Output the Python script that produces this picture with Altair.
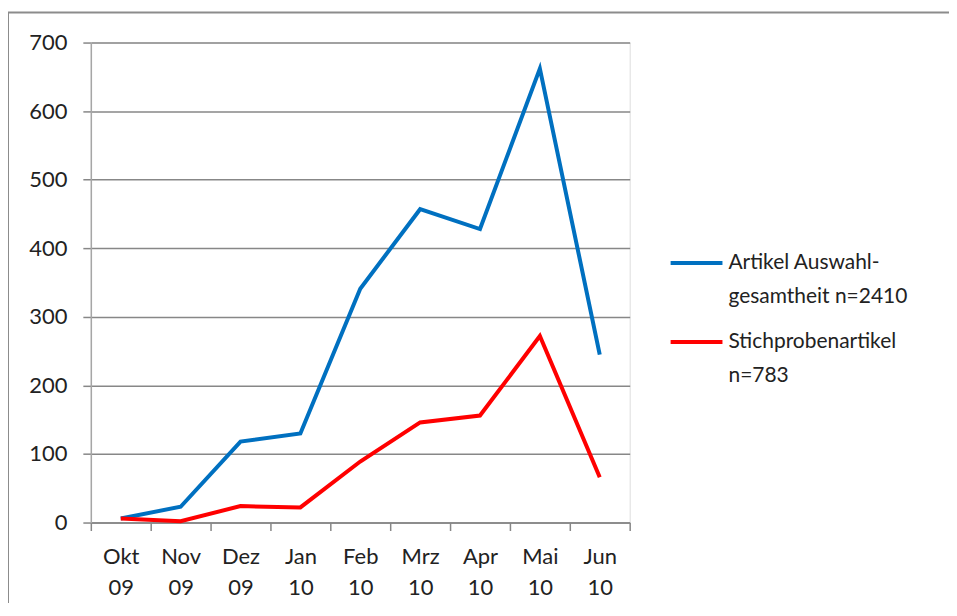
import altair as alt
import pandas as pd

months = ["Okt 09", "Nov 09", "Dez 09", "Jan 10", "Feb 10", "Mrz 10", "Apr 10", "Mai 10", "Jun 10"]
series_names = ["Artikel Auswahl-|gesamtheit n=2410", "Stichprobenartikel|n=783"]
auswahl = [6, 23, 118, 130, 341, 457, 428, 662, 245]
stichprobe = [6, 2, 24, 22, 89, 146, 156, 272, 66]
colors = ["#0070C0", "#FF0000"]
y_ticks = [0, 100, 200, 300, 400, 500, 600, 700]

rows = []
for name, vals in zip(series_names, [auswahl, stichprobe]):
    for m, v in zip(months, vals):
        rows.append({"Monat": m, "Anzahl": v, "Reihe": name})
df = pd.DataFrame(rows)

FONT = "Lato"

lines = alt.Chart(df).mark_line(strokeWidth=4, strokeJoin="miter").encode(
    x=alt.X(
        "Monat:N",
        sort=months,
        scale=alt.Scale(type="band", paddingInner=0, paddingOuter=0),
        axis=alt.Axis(
            title=None, grid=False, labelAngle=0, tickBand="extent",
            labelExpr="split(datum.label, ' ')", labelFont=FONT, labelFontSize=22,
            labelColor="#222222", labelLineHeight=31, labelBaseline="top",
            labelPadding=16, tickSize=8, tickColor="#878787", domainColor="#878787",
            domainWidth=1.5, tickWidth=1.5,
        ),
    ),
    y=alt.Y(
        "Anzahl:Q",
        scale=alt.Scale(domain=[0, 700], nice=False),
        axis=alt.Axis(
            title=None, values=y_ticks, grid=True, gridColor="#878787", gridWidth=1.5,
            labelFont=FONT, labelFontSize=22, labelColor="#222222", labelPadding=16,
            tickSize=8, tickColor="#878787", domainColor="#a6a6a6", domainWidth=1.5,
            tickWidth=1.5,
        ),
    ),
    color=alt.Color(
        "Reihe:N",
        sort=series_names,
        scale=alt.Scale(domain=series_names, range=colors),
        legend=alt.Legend(
            title=None, orient="none", legendX=579, legendY=193,
            symbolType="stroke", symbolSize=2700, symbolStrokeWidth=4,
            labelOffset=4, labelFont=FONT, labelFontSize=21, labelColor="#222222",
            labelLimit=400, labelExpr="split(datum.label, '|')",
            labelBaseline="middle", rowPadding=7, padding=0,
        ),
    ),
)

frame_df = pd.DataFrame({"k": [0]})
frame_left = alt.Chart(frame_df).mark_rule(color="#8c8c8c", strokeWidth=2).encode(
    x=alt.value(-83), y=alt.value(-30), y2=alt.value(600)
)
frame_top = alt.Chart(frame_df).mark_rule(color="#8c8c8c", strokeWidth=2).encode(
    x=alt.value(-83), x2=alt.value(900), y=alt.value(-30)
)

chart = alt.layer(frame_left, frame_top, lines).properties(
    width=540, height=481,
    autosize=alt.AutoSizeParams(type="none"),
    padding={"left": 83, "top": 34, "right": 320, "bottom": 80},
    background="white",
).configure_view(stroke=None).configure(
    style={"guide-label": {"lineHeight": 34}}
)

chart.save("out.html", embed_options={"renderer": "svg", "actions": False})
